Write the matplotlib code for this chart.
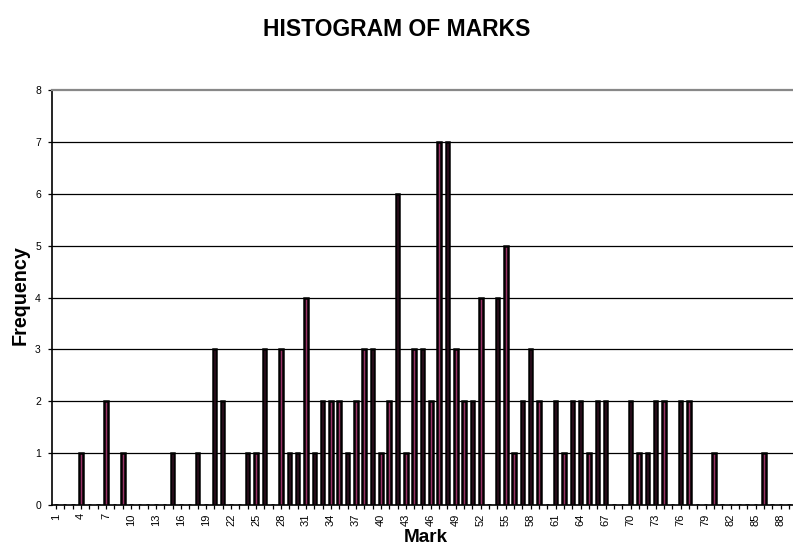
import numpy as np
import matplotlib
matplotlib.use("Agg")
import matplotlib.pyplot as plt

plt.rcParams['font.family'] = ['Liberation Sans', 'DejaVu Sans']

# marks 1..89 and how many students got each one
marks = list(range(1, 90))
counts_by_mark = {
    4: 1, 7: 2, 9: 1, 15: 1, 18: 1, 20: 3, 21: 2, 24: 1, 25: 1, 26: 3,
    28: 3, 29: 1, 30: 1, 31: 4, 32: 1, 33: 2, 34: 2, 35: 2, 36: 1, 37: 2,
    38: 3, 39: 3, 40: 1, 41: 2, 42: 6, 43: 1, 44: 3, 45: 3, 46: 2, 47: 7,
    48: 7, 49: 3, 50: 2, 51: 2, 52: 4, 54: 4, 55: 5, 56: 1, 57: 2, 58: 3,
    59: 2, 61: 2, 62: 1, 63: 2, 64: 2, 65: 1, 66: 2, 67: 2, 70: 2, 71: 1,
    72: 1, 73: 2, 74: 2, 76: 2, 77: 2, 80: 1, 86: 1,
}
frequency = [counts_by_mark.get(m, 0) for m in marks]
tick_labels = [str(m) for m in marks[::3]]

fig = plt.figure(figsize=(7.93, 5.49), dpi=100)
ax = fig.add_axes([52 / 793, 1 - 505 / 549, 1 - 52 / 793, (505 - 90) / 549])

for y in range(1, 8):
    ax.axhline(y, color='black', lw=0.9, zorder=1)

ax.bar(marks, frequency, width=0.42, color='#993366', edgecolor='black',
       linewidth=1.8, zorder=3)

ax.set_xlim(0.5, 89.5)
ax.set_ylim(0, 8)
ax.set_yticks(range(0, 9))
ax.set_yticklabels([str(v) for v in range(0, 9)], fontsize=7.5)
ax.set_xticks(marks[::3])
ax.set_xticklabels(tick_labels, rotation=90, fontsize=8)
ax.set_xticks(marks, minor=True)
ax.tick_params(axis='x', which='both', length=3, width=0.9, direction='out', pad=3)
ax.tick_params(axis='y', length=3, width=0.9, direction='out', pad=5)

ax.spines['right'].set_visible(False)
ax.spines['top'].set_color('#888888')
ax.spines['top'].set_linewidth(1.6)
ax.spines['left'].set_linewidth(1.2)
ax.spines['bottom'].set_linewidth(1.2)

fig.text(0.5, 1 - 30 / 549, 'HISTOGRAM OF MARKS', ha='center', va='center',
         fontsize=16.5, fontweight='bold')
fig.text(20 / 793, 1 - 295 / 549, 'Frequency', rotation=90, ha='center',
         va='center', fontsize=14.2, fontweight='bold')
fig.text(426 / 793, 1 - 537 / 549, 'Mark', ha='center', va='center',
         fontsize=13.6, fontweight='bold')

fig.savefig('out.png', dpi=100)
